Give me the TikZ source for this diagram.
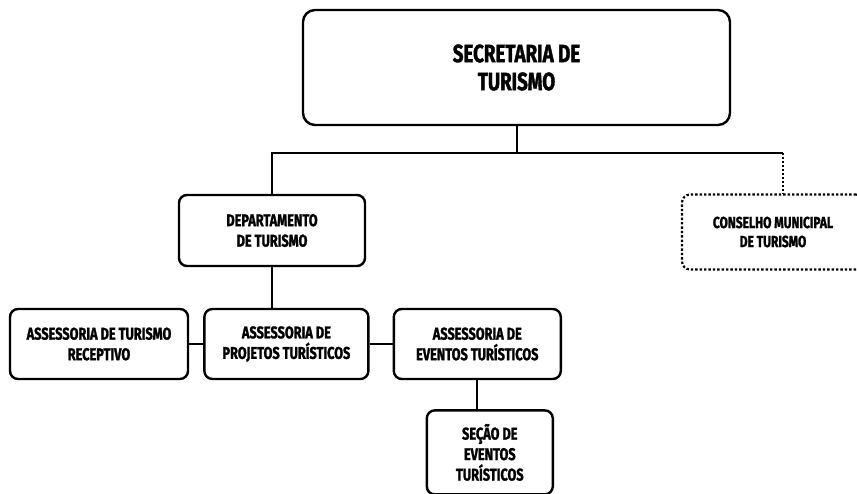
\documentclass[tikz,border=0pt]{standalone}
\usepackage{fontspec}
\setmainfont{Fira Sans}[FakeStretch=0.75, BoldFeatures={FakeBold=1.5}]
\usetikzlibrary{positioning}

\begin{document}
\begin{tikzpicture}[
    x=1pt, y=-1pt,
    every node/.style={
        draw=black,
        line width=2.4pt,
        rounded corners=8pt,
        inner sep=0pt,
        align=center,
        font=\fontsize{17}{20.5}\selectfont\bfseries},
    link/.style={line width=2pt}]
    \useasboundingbox (0,0) rectangle (857,494);

    \node[minimum width=427pt, minimum height=115pt, rounded corners=12pt,
        font=\fontsize{25}{28}\selectfont\bfseries] (secretaria) at (516.5,67.5) {SECRETARIA DE\\TURISMO};
    \node[minimum width=186pt, minimum height=71pt] (departamento) at (272,230.5) {DEPARTAMENTO\\DE TURISMO};
    \node[minimum width=182pt, minimum height=75pt, dotted, line width=2.2pt,
        font=\fontsize{16}{19}\selectfont\bfseries] (conselho) at (773,232) {CONSELHO MUNICIPAL\\DE TURISMO};

    \node[minimum width=178pt, minimum height=70pt] (receptivo) at (99,344) {ASSESSORIA DE TURISMO\\RECEPTIVO};
    \node[minimum width=164pt, minimum height=70pt, right=14pt of receptivo] (projetos) {ASSESSORIA DE\\PROJETOS TURÍSTICOS};
    \node[minimum width=167pt, minimum height=70pt, right=23pt of projetos] (eventos) {ASSESSORIA DE\\EVENTOS TURÍSTICOS};
    \node[minimum width=126pt, minimum height=84pt, below=29pt of eventos, xshift=12.5pt] (secao) {SEÇÃO DE\\EVENTOS\\TURÍSTICOS};

    \coordinate (busleft) at (departamento.north |- 0,153);
    \coordinate (busright) at (783,153);
    \draw[link] (secretaria.south) -- (secretaria.south |- busleft);
    \draw[link] (departamento.north) -- (busleft) -- (busright);
    \draw[link, dotted, line width=2.2pt] (busright) -- (busright |- conselho.north);
    \draw[link] (departamento.south) -- (departamento.south |- projetos.north);
    \draw[link] (receptivo) -- (projetos);
    \draw[link] (projetos) -- (eventos);
    \draw[link] (eventos.south) -- (eventos.south |- secao.north);
\end{tikzpicture}
\end{document}
